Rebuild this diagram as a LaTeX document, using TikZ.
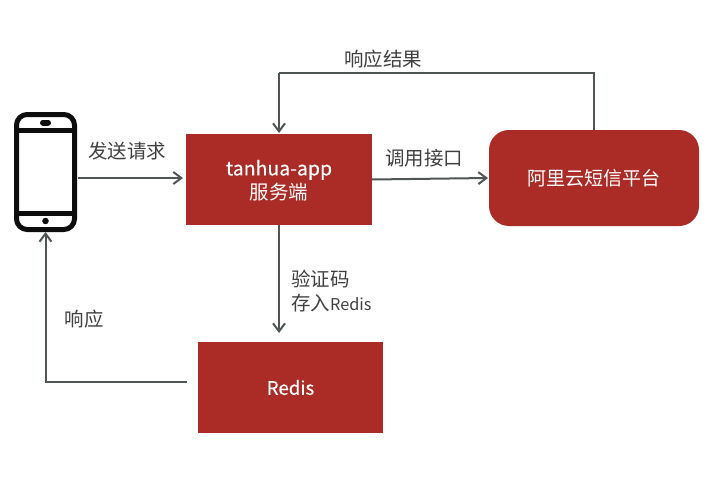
\documentclass[tikz,border=0pt]{standalone}
\usepackage{fontspec}
\usepackage{xcolor}
\usetikzlibrary{arrows.meta}
\setmainfont{Noto Sans CJK SC}
\newfontfamily\boxlatin[FakeBold=.35]{Noto Sans CJK SC}
\definecolor{boxred}{HTML}{AB2B27}
\definecolor{flowgray}{HTML}{4F5655}
\definecolor{labelgray}{HTML}{404040}
\tikzset{
	redbox/.style={fill=boxred, text=white, font=\fontsize{14.6}{18}\selectfont, align=center, inner sep=0pt, outer sep=0pt},
	flow/.style={flowgray, line width=1.5pt, -{Straight Barb[length=6pt, width=9pt, line width=1.5pt]}},
	link/.style={flowgray, line width=1.5pt},
	tag/.style={text=labelgray, font=\fontsize{14.6}{18}\selectfont, align=left, inner sep=0pt},
}

\begin{document}
\begin{tikzpicture}[x=.75pt, y=-.75pt]
	\useasboundingbox (0,0) rectangle (718,489);

	% server and platform boxes
	\node[redbox, minimum width=139.5pt, minimum height=68.25pt] (app) at (279,179.5) {};
	\node[redbox] (appname) at (279,180.5) {{\boxlatin tanhua-app}\\服务端};
	\node[redbox, minimum width=157.5pt, minimum height=72pt, rounded corners=15pt] (ali) at (594,178) {\fontsize{14.3}{18}\selectfont 阿里云短信平台};
	\node[redbox, minimum width=138.75pt, minimum height=68.25pt] (redis) at (290.5,387.5) {\fontsize{14}{18}\selectfont\boxlatin Redis};

	% phone
	\node[draw=black!95, line width=3.75pt, rounded corners=8pt, minimum width=43.5pt, minimum height=86.25pt, inner sep=0pt, outer sep=1.875pt] (phone) at (45.5,172) {};
	\draw[black!95, line width=3.75pt] ([yshift=-14pt]phone.north west) -- ([yshift=-14pt]phone.north east);
	\draw[black!95, line width=3.75pt] ([yshift=14pt]phone.south west) -- ([yshift=14pt]phone.south east);
	\draw[black!95, line width=4.5pt, line cap=round] (43,122.5) -- (48,122.5);
	\filldraw[black!95] (45.5,221) circle[radius=2.2pt];

	% connectors
	\coordinate (toplink) at (279,73);
	\draw[flow] ([shift={(1,6)}]phone.east) -- ([shift={(-3,-1.5)}]app.west);
	\draw[flow] (app.east) -- ([xshift=-.75pt]ali.west);
	\draw[link] (ali.north) |- (toplink);
	\draw[flow] (toplink) -- ([yshift=.75pt]app.north);
	\draw[flow] (app.south) -- ([shift={(-11.5,-9)}]redis.north);
	\draw[flow] ([shift={(-11,-5.5)}]redis.west) -| (phone.south);

	% labels
	\node[tag] (send) at (127,151) {发送请求};
	\node[tag] (result) at (383,59) {响应结果};
	\node[tag] (call) at (424,158) {调用接口};
	\node[tag, anchor=north west] (store) at (291,270) {验证码\\存入{\fontsize{12.2}{18}\selectfont Redis}};
	\node[tag] (reply) at (84,319) {响应};
\end{tikzpicture}
\end{document}
